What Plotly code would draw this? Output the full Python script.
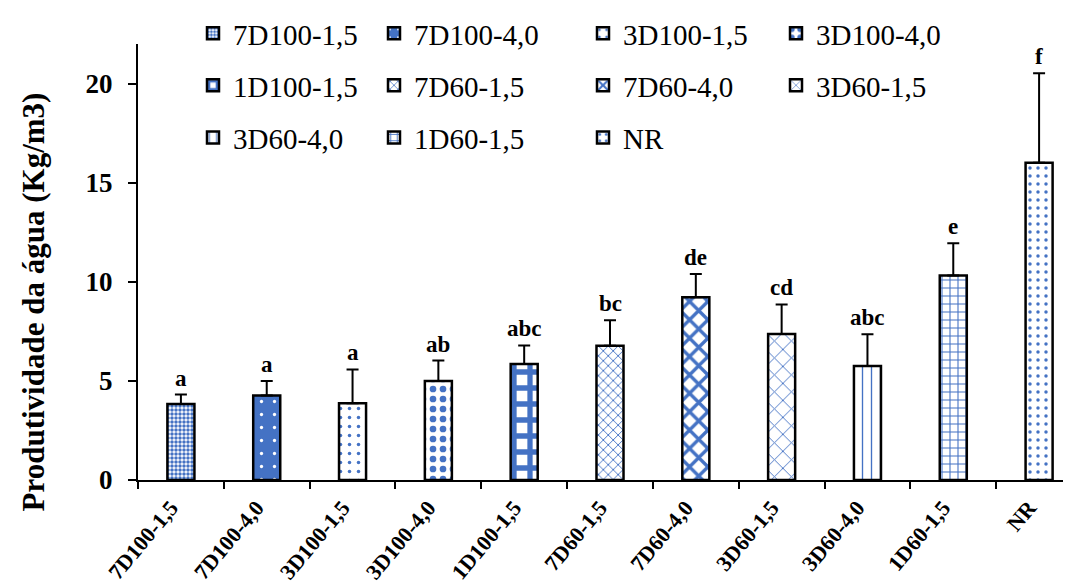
import plotly.graph_objects as go

categories = ["7D100-1,5", "7D100-4,0", "3D100-1,5", "3D100-4,0", "1D100-1,5",
              "7D60-1,5", "7D60-4,0", "3D60-1,5", "3D60-4,0", "1D60-1,5", "NR"]
values = [3.84, 4.27, 3.87, 5.00, 5.85, 6.77, 9.22, 7.37, 5.75, 10.32, 16.01]
errors = [0.47, 0.73, 1.71, 1.03, 0.94, 1.29, 1.18, 1.49, 1.60, 1.62, 4.52]
letters = ["a", "a", "a", "ab", "abc", "bc", "de", "cd", "abc", "e", "f"]

BLUE = "#4472C4"
FONT = "Times New Roman, Liberation Serif, serif"

# pattern styles: (shape, size, solidity, fg, bg)
patterns = [
    (".", 4, 0.6, BLUE, "white"),
    (".", 13, 0.05, "white", BLUE),
    (".", 9, 0.12, BLUE, "white"),
    (".", 10, 0.35, BLUE, "white"),
    ("+", 16, 0.55, BLUE, "white"),
    ("x", 7, 0.25, BLUE, "white"),
    ("x", 13, 0.45, BLUE, "white"),
    ("x", 12, 0.15, BLUE, "white"),
    ("|", 9, 0.15, BLUE, "white"),
    ("+", 8, 0.25, BLUE, "white"),
    (".", 8, 0.15, BLUE, "white"),
]

# The page body has an 8px margin; work in figure pixels (window px - 8).
OFF = 8
FIG_W, FIG_H = 1071 - OFF, 583 - OFF
L = 138 - OFF
T = 38 - OFF
BOTTOM = 480 - OFF
PW = FIG_W - L
PH = BOTTOM - T

def px_x(px):
    return (px - OFF - L) / PW

def px_y(py):
    return (BOTTOM - (py - OFF)) / PH

text_starts = [233, 414, 623, 816]
row_y = [27, 80, 133]

fig = go.Figure()
layout_legends = {}
for i, cat in enumerate(categories):
    shape, size, sol, fg, bg = patterns[i]
    lname = "legend" if i == 0 else f"legend{i+1}"
    fig.add_trace(go.Bar(
        x=[cat], y=[values[i]], name=cat, width=0.315,
        marker=dict(color=bg, line=dict(color="black", width=2.5),
                    pattern=dict(shape=shape, size=size, solidity=sol,
                                 fgcolor=fg, bgcolor=bg, fillmode="replace")),
        error_y=dict(type="data", array=[errors[i]], arrayminus=[0],
                     symmetric=False, color="black", thickness=2, width=6),
        legend=lname,
    ))
    row, col = divmod(i, 4)
    layout_legends[lname] = dict(
        x=px_x(text_starts[col] - 40), y=px_y(row_y[row]),
        xanchor="left", yanchor="middle",
        bgcolor="rgba(0,0,0,0)", borderwidth=0,
        font=dict(family=FONT, size=29, color="black"),
    )

for i, cat in enumerate(categories):
    fig.add_annotation(x=cat, y=values[i] + errors[i], text=f"<b>{letters[i]}</b>",
                       showarrow=False, yanchor="bottom", yshift=2,
                       font=dict(family=FONT, size=23, color="black"))

fig.add_annotation(xref="paper", yref="paper", x=px_x(33), y=px_y(300),
                   text="<b>Produtividade da água (Kg/m3)</b>", textangle=-90,
                   showarrow=False, xanchor="center", yanchor="middle",
                   font=dict(family=FONT, size=31, color="black"))

fig.update_layout(
    width=FIG_W, height=FIG_H,
    margin=dict(l=L, r=0, t=T, b=FIG_H - BOTTOM),
    plot_bgcolor="white", paper_bgcolor="white",
    barmode="overlay",
    showlegend=True,
    **layout_legends,
)
fig.update_xaxes(
    type="category", range=[-0.5, 10.5 - 11 / 85.8],
    showline=True, linecolor="black", linewidth=2,
    ticks="outside", tickson="boundaries", ticklen=7, tickwidth=2, tickcolor="black",
    tickangle=-50, showgrid=False, ticklabelshift=-10, ticklabelstandoff=4,
    tickfont=dict(family=FONT, size=22, color="black", weight="bold"),
)
fig.update_yaxes(
    range=[0, 22], dtick=5, tick0=0,
    showline=True, linecolor="black", linewidth=2,
    ticks="outside", ticklen=8, tickwidth=2, tickcolor="black",
    showgrid=False, zeroline=False, ticklabelstandoff=10,
    tickfont=dict(family=FONT, size=27, color="black", weight="bold"),
)

fig.write_html("out.html")
